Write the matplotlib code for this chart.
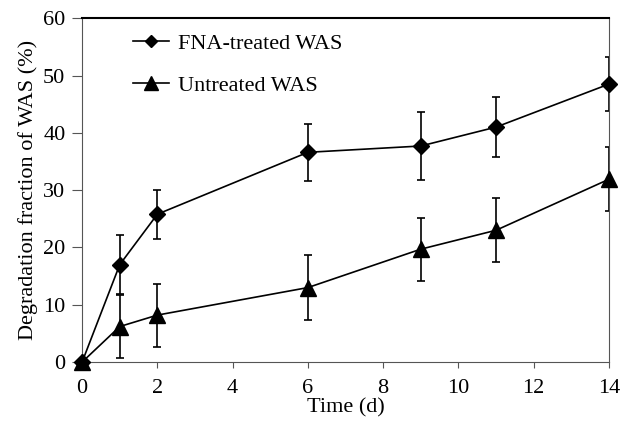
import matplotlib.pyplot as plt

plt.rcParams['font.family'] = ['Liberation Serif', 'DejaVu Serif']

days = [0, 1, 2, 6, 9, 11, 14]
fna = [0, 17.0, 25.8, 36.6, 37.7, 41.0, 48.5]
fna_err = [0, 5.2, 4.3, 5.0, 6.0, 5.3, 4.7]
untreated = [0, 6.2, 8.2, 13.0, 19.7, 23.0, 31.9]
untreated_err = [0, 5.5, 5.5, 5.6, 5.5, 5.6, 5.6]

fig = plt.figure(figsize=(6.22, 4.23), dpi=100)
ax = fig.add_axes([0.132, 0.144, 0.847, 0.813])

# error bars first (clipped at the frame like the original)
ax.errorbar(days, fna, yerr=fna_err, fmt="none", ecolor="black",
            elinewidth=1.2, capsize=3, capthick=1.2, zorder=2)
ax.errorbar(days, untreated, yerr=untreated_err, fmt="none", ecolor="black",
            elinewidth=1.2, capsize=3, capthick=1.2, zorder=2)

ax.plot(days, fna, label="FNA-treated WAS", color="black", marker="D",
        markersize=8, linewidth=1.2, clip_on=False, zorder=3)
ax.plot(days, untreated, label="Untreated WAS", color="black", marker="^",
        markersize=12, linewidth=1.2, clip_on=False, zorder=3)

ax.set_xlim(0, 14)
ax.set_ylim(0, 60)
ax.set_xticks(range(0, 15, 2))
ax.set_yticks(range(0, 61, 10))
ax.tick_params(axis="both", labelsize=16, direction="out", color="#555555")
ax.tick_params(axis="x", length=4, pad=8)
ax.tick_params(axis="y", length=7, pad=5)
for side in ["left", "right", "bottom"]:
    ax.spines[side].set_color("#555555")
ax.spines["top"].set_color("black")
ax.spines["top"].set_linewidth(1.5)

ax.set_xlabel("Time (d)", fontsize=16, labelpad=0)
ax.set_ylabel("Degradation fraction of WAS (%)", fontsize=16, labelpad=4)

ax.legend(
    loc="upper left",
    bbox_to_anchor=(0.097, 0.955),
    frameon=False,
    fontsize=16,
    handlelength=1.6,
    handletextpad=0.4,
    borderpad=0,
    borderaxespad=0,
    labelspacing=0.95,
    markerscale=0.8
)

fig.savefig("out.png", dpi=100)
